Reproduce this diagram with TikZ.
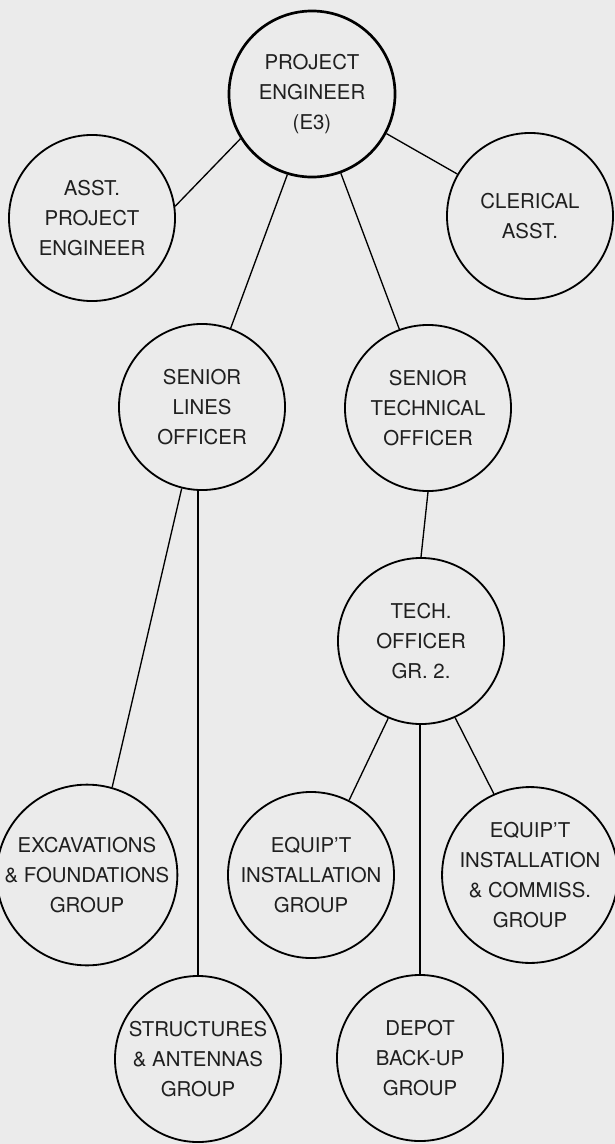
\documentclass[tikz,border=0pt]{standalone}
\usepackage{fontspec}
\setmainfont{TeX Gyre Heros}

\begin{document}
\begin{tikzpicture}[x=0.025cm, y=-0.025cm,
    cargo/.style={circle, draw=black, line width=1.3pt, minimum size=4.15cm,
        inner sep=0pt, align=center, text=black!88,
        font=\fontsize{14.5}{21.3}\selectfont},
    chefe/.style={cargo, line width=1.9pt},
    ligacao/.style={line width=0.95pt}]

    % Papel
    \fill[black!8] (0,0) rectangle (615,1144);
    \useasboundingbox (0,0) rectangle (615,1144);

    % Cargos - primeiro nivel
    \node[chefe] (pe) at (312,94) {PROJECT\\ENGINEER\\(E3)};
    \node[cargo] (asst) at (92,218) {ASST.\\PROJECT\\ENGINEER};
    \node[cargo] (cler) at (530,216) {CLERICAL\\ASST.};

    % Oficiais
    \node[cargo] (slo) at (202,407) {SENIOR\\LINES\\OFFICER};
    \node[cargo] (sto) at (428,408) {SENIOR\\TECHNICAL\\OFFICER};
    \node[cargo] (to) at (421,641) {TECH.\\OFFICER\\GR. 2.};

    % Grupos
    \node[cargo] (exc) at (87,875) {EXCAVATIONS\\\& FOUNDATIONS\\GROUP};
    \node[cargo] (eqi) at (311,875) {EQUIP'T\\INSTALLATION\\GROUP};
    \node[cargo] (eqc) at (530,875) {EQUIP'T\\INSTALLATION\\\& COMMISS.\\GROUP};
    \node[cargo] (str) at (198,1059) {STRUCTURES\\\& ANTENNAS\\GROUP};
    \node[cargo] (dep) at (420,1058) {DEPOT\\BACK-UP\\GROUP};

    % Ligacoes
    \draw[ligacao] (pe.212) -- (asst.8);
    \draw[ligacao] (pe.332) -- (cler.150);
    \draw[ligacao] (pe.253) -- (slo.70);
    \draw[ligacao] (pe.290) -- (sto.110);
    \draw[ligacao] (slo.256) -- (exc.74);
    \draw[ligacao] (str.north) -- (str.north |- slo.south);
    \draw[ligacao] (sto.south) -- (to.north);
    \draw[ligacao] (to.247) -- (eqi.63);
    \draw[ligacao] (dep.north) -- (dep.north |- to.south);
    \draw[ligacao] (to.294) -- (eqc.114);

\end{tikzpicture}
\end{document}
